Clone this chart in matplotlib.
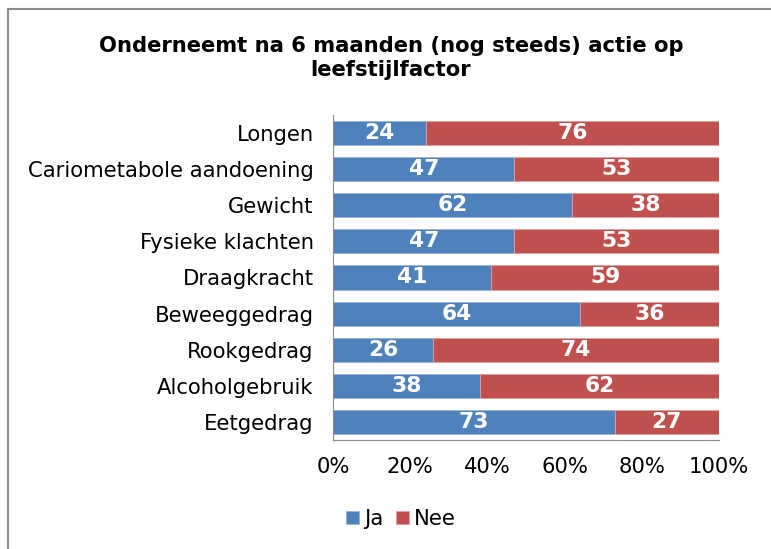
import matplotlib
matplotlib.use("Agg")
import matplotlib.pyplot as plt
import numpy as np
from matplotlib.patches import Rectangle
from matplotlib.ticker import PercentFormatter

categories = ["Longen", "Cariometabole aandoening", "Gewicht", "Fysieke klachten",
              "Draagkracht", "Beweeggedrag", "Rookgedrag", "Alcoholgebruik", "Eetgedrag"]
ja = [24, 47, 62, 47, 41, 64, 26, 38, 73]
nee = [76, 53, 38, 53, 59, 36, 74, 62, 27]
x_ticks = [0, 20, 40, 60, 80, 100]

blue = "#4F81BD"
red = "#C0504D"
fs = 15.2

plt.rcParams["font.family"] = ["DejaVu Sans"]

fig = plt.figure(figsize=(7.71, 5.49), dpi=100)
ax = fig.add_axes([333 / 771, 1 - 440 / 549, (719 - 333) / 771, (440 - 115) / 549])

y = np.arange(len(categories))
ja_arr = np.array(ja)
nee_arr = np.array(nee)
ax.barh(y, ja_arr, height=0.67, color=blue, edgecolor="#9BB5D9", linewidth=0.6, label="Ja")
ax.barh(y, nee_arr, left=ja_arr, height=0.67, color=red, edgecolor="#E0A3A1", linewidth=0.6, label="Nee")

for i in range(len(categories)):
    ax.text(ja[i] / 2, y[i], str(ja[i]), ha="center", va="center", color="white",
            fontsize=fs + 0.5, fontweight="bold")
    ax.text(ja[i] + nee[i] / 2, y[i], str(nee[i]), ha="center", va="center", color="white",
            fontsize=fs + 0.5, fontweight="bold")

ax.set_ylim(len(categories) - 0.5, -0.5)
ax.set_xlim(0, 100)
ax.set_yticks(y)
ax.set_yticklabels(categories, fontsize=fs)
ax.set_xticks(x_ticks)
ax.xaxis.set_major_formatter(PercentFormatter(decimals=0))
ax.tick_params(axis="x", labelsize=fs, length=0, pad=12)
ax.tick_params(axis="y", length=0, pad=14)

for side in ["top", "right"]:
    ax.spines[side].set_visible(False)
ax.spines["left"].set_color("#8C8C8C")
ax.spines["bottom"].set_color("#8C8C8C")

fig.text(0.507, 1 - 58 / 549, "Onderneemt na 6 maanden (nog steeds) actie op\nleefstijlfactor",
         ha="center", va="center", fontsize=fs, fontweight="bold", linespacing=1.3)

fig.legend(loc="center", bbox_to_anchor=(0.52, 1 - 519 / 549), ncol=2, frameon=False,
           fontsize=fs, handlelength=0.6, handleheight=0.6, handletextpad=0.25,
           columnspacing=0.6)

fig.patches.append(Rectangle((8 / 771, -0.05), 1.1, 1 - 9 / 549 + 0.05, transform=fig.transFigure,
                             fill=False, edgecolor="#8C8C8C", linewidth=1.5))

fig.savefig("out.png", dpi=100, facecolor="white")
